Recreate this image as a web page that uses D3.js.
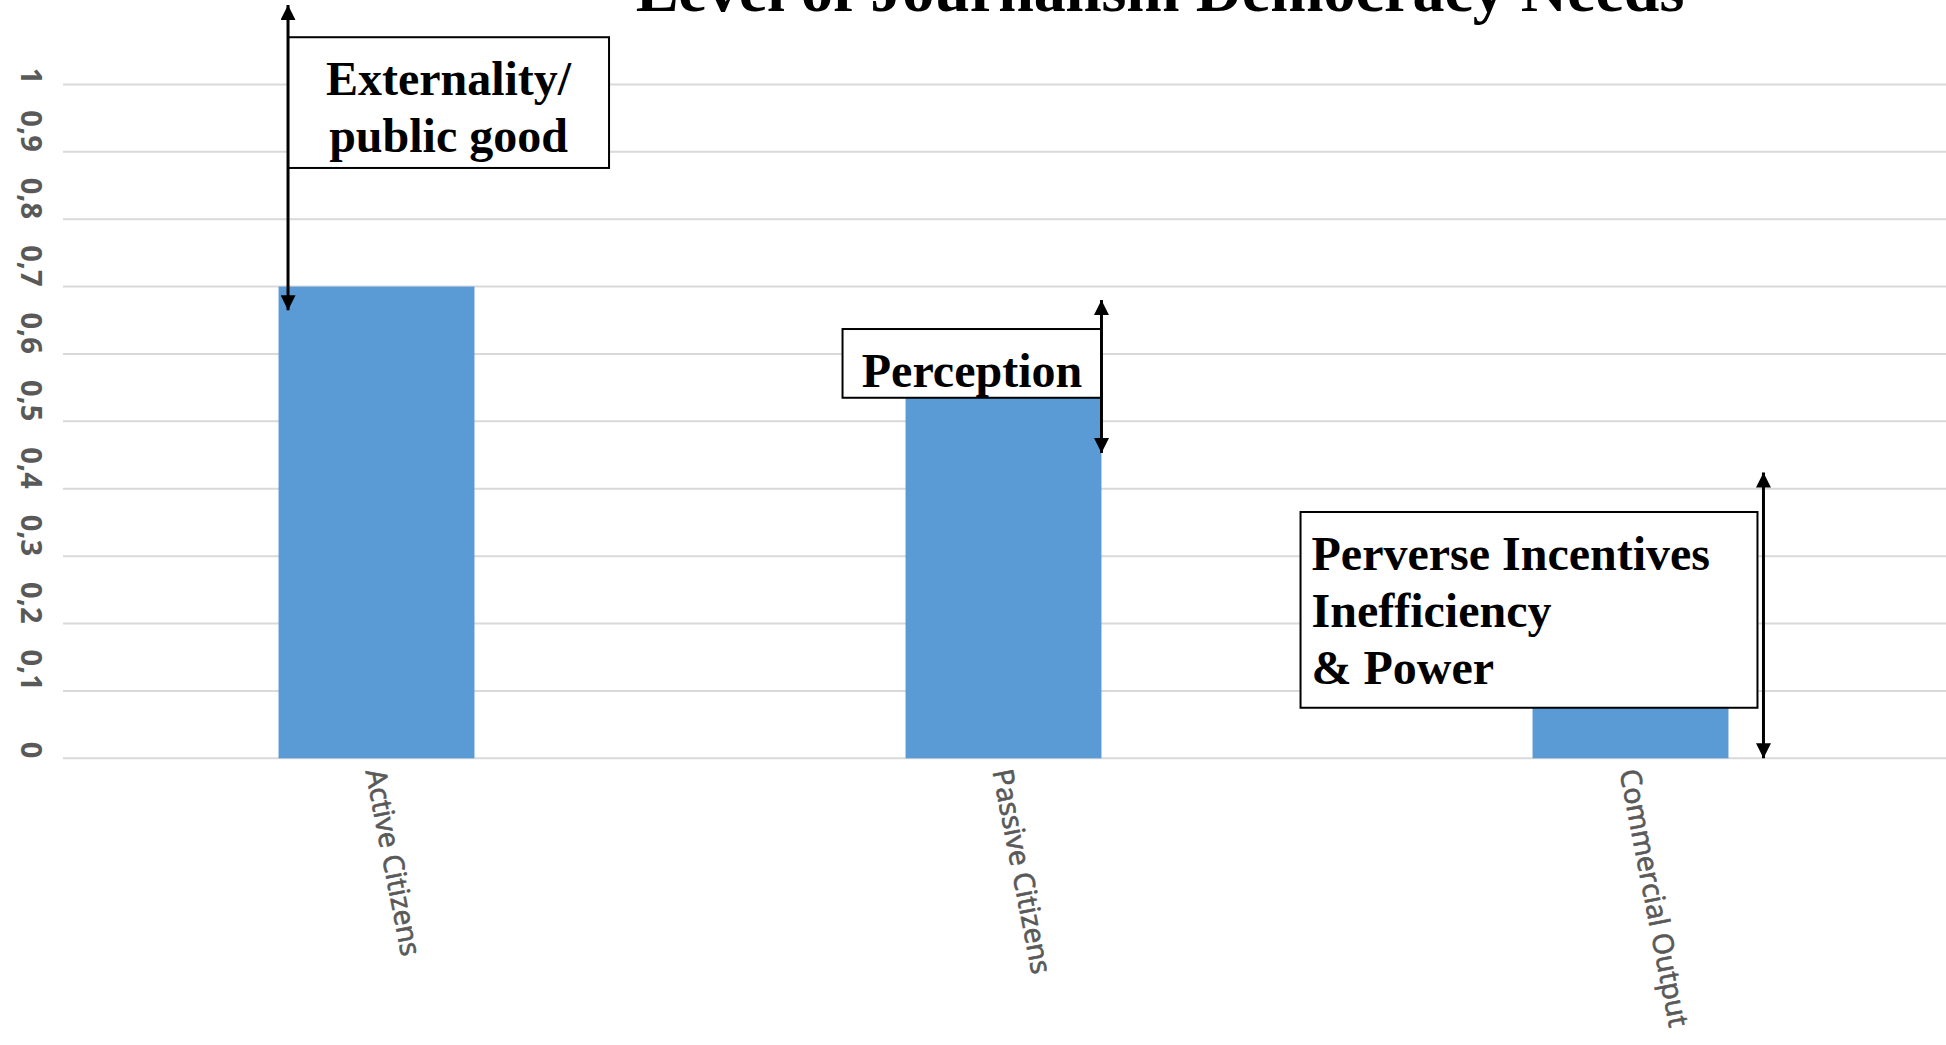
<!DOCTYPE html>
<html>
<head>
<meta charset="utf-8">
<script src="https://cdn.jsdelivr.net/npm/d3@7"></script>
<style>
  html, body { margin: 0; padding: 0; background: #ffffff; }
  svg { display: block; }
</style>
</head>
<body>
<svg id="chart" width="1946" height="1045"></svg>
<script>
// Chart data
const categories = ["Active Citizens", "Passive Citizens", "Commercial Output"];
const values = [0.7, 0.54, 0.08];
const yTicks = [0, 0.1, 0.2, 0.3, 0.4, 0.5, 0.6, 0.7, 0.8, 0.9, 1];
const yTickLabels = ["0", "0,1", "0,2", "0,3", "0,4", "0,5", "0,6", "0,7", "0,8", "0,9", "1"];
const title = "Level of Journalism Democracy Needs";

// Callout texts and the value span each double arrow covers
const calloutLines = [
  ["Externality/", "public good"],
  ["Perception"],
  ["Perverse Incentives", "Inefficiency", "& Power"]
];
const arrowSpans = [[0.665, 1.118], [0.453, 0.68], [0.0, 0.424]];
const boxSpans = [[0.876, 1.07], [0.535, 0.637], [0.075, 0.3655]];

const W = 1946, H = 1045;
const plot = { left: 63, right: 1944, top: 84.4, bottom: 758.3 };

const svg = d3.select("#chart");
svg.append("rect").attr("width", W).attr("height", H).attr("fill", "#ffffff");

const x = d3.scaleBand()
  .domain(categories)
  .range([plot.left, plot.right])
  .paddingInner(0.6875)
  .paddingOuter(0.34375);

const y = d3.scaleLinear().domain([0, 1]).range([plot.bottom, plot.top]);

// Horizontal gridlines
svg.append("g")
  .selectAll("line")
  .data(yTicks)
  .join("line")
  .attr("x1", plot.left)
  .attr("x2", W)
  .attr("y1", d => y(d))
  .attr("y2", d => y(d))
  .attr("stroke", "#d9d9d9")
  .attr("stroke-width", 2);

// Y axis labels, turned to read downward, ending at their gridline
const yAxis = d3.axisLeft(y).tickValues(yTicks).tickSize(0)
  .tickFormat((d, i) => yTickLabels[i]);
const yAxisG = svg.append("g").call(yAxis);
yAxisG.select(".domain").remove();
yAxisG.selectAll(".tick text")
  .attr("x", 0).attr("dy", 0)
  .attr("text-anchor", "end")
  .attr("transform", "translate(21,0) rotate(90)")
  .attr("fill", "#595959")
  .attr("font-family", "'Open Sans', sans-serif")
  .attr("font-weight", "bold")
  .attr("font-size", 29);
yAxisG.selectAll(".tick").attr("transform", d => `translate(0,${y(d)})`);

// Bars
svg.append("g")
  .selectAll("rect")
  .data(values)
  .join("rect")
  .attr("x", (d, i) => x(categories[i]))
  .attr("width", x.bandwidth())
  .attr("y", d => y(d))
  .attr("height", d => y(0) - y(d))
  .attr("fill", "#5b9bd5");

// Category labels, slanted; a thin outline gives a semibold look
const xAxis = d3.axisBottom(x).tickSize(0);
const xAxisG = svg.append("g").attr("transform", `translate(0,${plot.bottom})`).call(xAxis);
xAxisG.select(".domain").remove();
xAxisG.selectAll(".tick text")
  .attr("x", 0).attr("y", 0).attr("dy", 0)
  .attr("text-anchor", "start")
  .attr("transform", "translate(-11,13) rotate(79)")
  .attr("fill", "#595959")
  .attr("stroke", "#595959")
  .attr("stroke-width", 0.7)
  .attr("font-family", "'Open Sans', sans-serif")
  .attr("font-weight", "normal")
  .attr("font-size", 28.5);

// Title (runs off the top edge)
svg.append("text")
  .attr("x", 1160)
  .attr("y", 11)
  .attr("text-anchor", "middle")
  .attr("font-family", "'Liberation Serif', 'Times New Roman', serif")
  .attr("font-weight", "bold")
  .attr("font-size", 64)
  .attr("fill", "#000")
  .text(title);

// Arrowhead markers
const defs = svg.append("defs");
defs.append("marker")
  .attr("id", "head")
  .attr("viewBox", "0 0 16 15")
  .attr("refX", 15).attr("refY", 7.5)
  .attr("markerWidth", 16).attr("markerHeight", 15)
  .attr("markerUnits", "userSpaceOnUse")
  .attr("orient", "auto-start-reverse")
  .append("path")
  .attr("d", "M0,0 L15,7.5 L0,15 Z")
  .attr("fill", "#000");

// Horizontal placement of callouts, tied to the bars
const bw = x.bandwidth();
const layout = [
  { arrowX: x(categories[0]) + 9.5, boxL: x(categories[0]) + 9.5, boxR: x(categories[0]) + 330.5, align: "middle" },
  { arrowX: x(categories[1]) + bw, boxL: x(categories[1]) - 63, boxR: x(categories[1]) + bw, align: "middle" },
  { arrowX: x(categories[2]) + bw + 35, boxL: x(categories[2]) - 232, boxR: x(categories[2]) + bw + 29, align: "start" }
];
const firstBaseline = [95, 387, 570];
const lineGap = 57;

const callouts = svg.append("g");
layout.forEach((L, i) => {
  const g = callouts.append("g");
  const top = y(boxSpans[i][1]), bottom = y(boxSpans[i][0]);
  g.append("rect")
    .attr("x", L.boxL).attr("y", top)
    .attr("width", L.boxR - L.boxL).attr("height", bottom - top)
    .attr("fill", "#fff").attr("stroke", "#000").attr("stroke-width", 2);
  const tx = L.align === "middle" ? (L.boxL + L.boxR) / 2 : L.boxL + 11;
  g.selectAll("text")
    .data(calloutLines[i])
    .join("text")
    .attr("x", tx)
    .attr("y", (d, j) => firstBaseline[i] + j * lineGap)
    .attr("text-anchor", L.align)
    .attr("font-family", "'Liberation Serif', 'Times New Roman', serif")
    .attr("font-weight", "bold")
    .attr("font-size", 48)
    .attr("fill", "#000")
    .text(d => d);
  g.append("line")
    .attr("x1", L.arrowX).attr("x2", L.arrowX)
    .attr("y1", y(arrowSpans[i][0])).attr("y2", y(arrowSpans[i][1]))
    .attr("stroke", "#000").attr("stroke-width", 3)
    .attr("marker-start", "url(#head)")
    .attr("marker-end", "url(#head)");
});
</script>
</body>
</html>
